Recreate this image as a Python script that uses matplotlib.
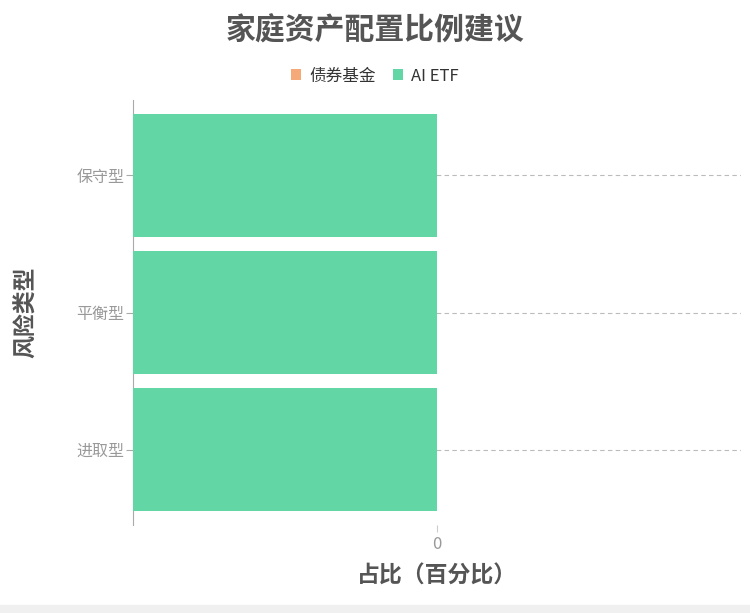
import numpy as np
import matplotlib.pyplot as plt
from matplotlib.patches import Rectangle

plt.rcParams['font.family'] = ['Noto Sans CJK SC', 'DejaVu Sans']

# data (top to bottom)
categories = ["保守型", "平衡型", "进取型"]
bond_fund = [0, 0, 0]
ai_etf = [-1, -1, -1]
x_ticks = [0]

green = "#63d6a6"
orange = "#f5a878"

fig = plt.figure(figsize=(7.5, 6.13), dpi=100)
ax = fig.add_axes([133 / 750, 88 / 613, 608 / 750, 425 / 613])

y = np.arange(len(categories))
ax.barh(y, bond_fund, height=0.9, color=orange, label="债券基金", zorder=3)
ax.barh(y, ai_etf, left=bond_fund, height=0.9, color=green, label="AI ETF", zorder=3)

ax.set_xlim(-1, 1)
ax.set_ylim(len(categories) - 0.45, -0.55)
ax.set_yticks(y)
ax.set_yticklabels(categories, color="#999999", fontsize=11.5)
ax.set_xticks(x_ticks)
ax.set_xticklabels([str(t) for t in x_ticks], color="#999999", fontsize=12)

for yi in y:
    ax.axhline(yi, color="#bbbbbb", lw=0.8, ls=(0, (4, 3)), zorder=1)

for s in ["top", "right", "bottom"]:
    ax.spines[s].set_visible(False)
ax.spines["left"].set_color("#aaaaaa")
ax.tick_params(axis="y", length=5, color="#aaaaaa", pad=1)
ax.tick_params(axis="x", length=5, color="#cccccc", pad=3)

ax.set_xlabel("占比（百分比）", fontsize=16.5, fontweight="bold", color="#555555", labelpad=8)
ax.set_ylabel("风险类型", fontsize=16.5, fontweight="bold", color="#555555", labelpad=28)

fig.suptitle("家庭资产配置比例建议", x=0.5, y=0.975, fontsize=21.5, fontweight="bold", color="#555555")

leg = fig.legend(loc="center", bbox_to_anchor=(0.5, 0.876), ncol=2, frameon=False,
                 fontsize=12, handlelength=0.6, handleheight=0.6, columnspacing=1.0,
                 handletextpad=0.5)
for t in leg.get_texts():
    t.set_color("#333333")

fig.patches.append(Rectangle((0, 0), 1, 8 / 613, transform=fig.transFigure,
                             color="#f0f0f0", zorder=0))

fig.savefig("out.png", dpi=100)
